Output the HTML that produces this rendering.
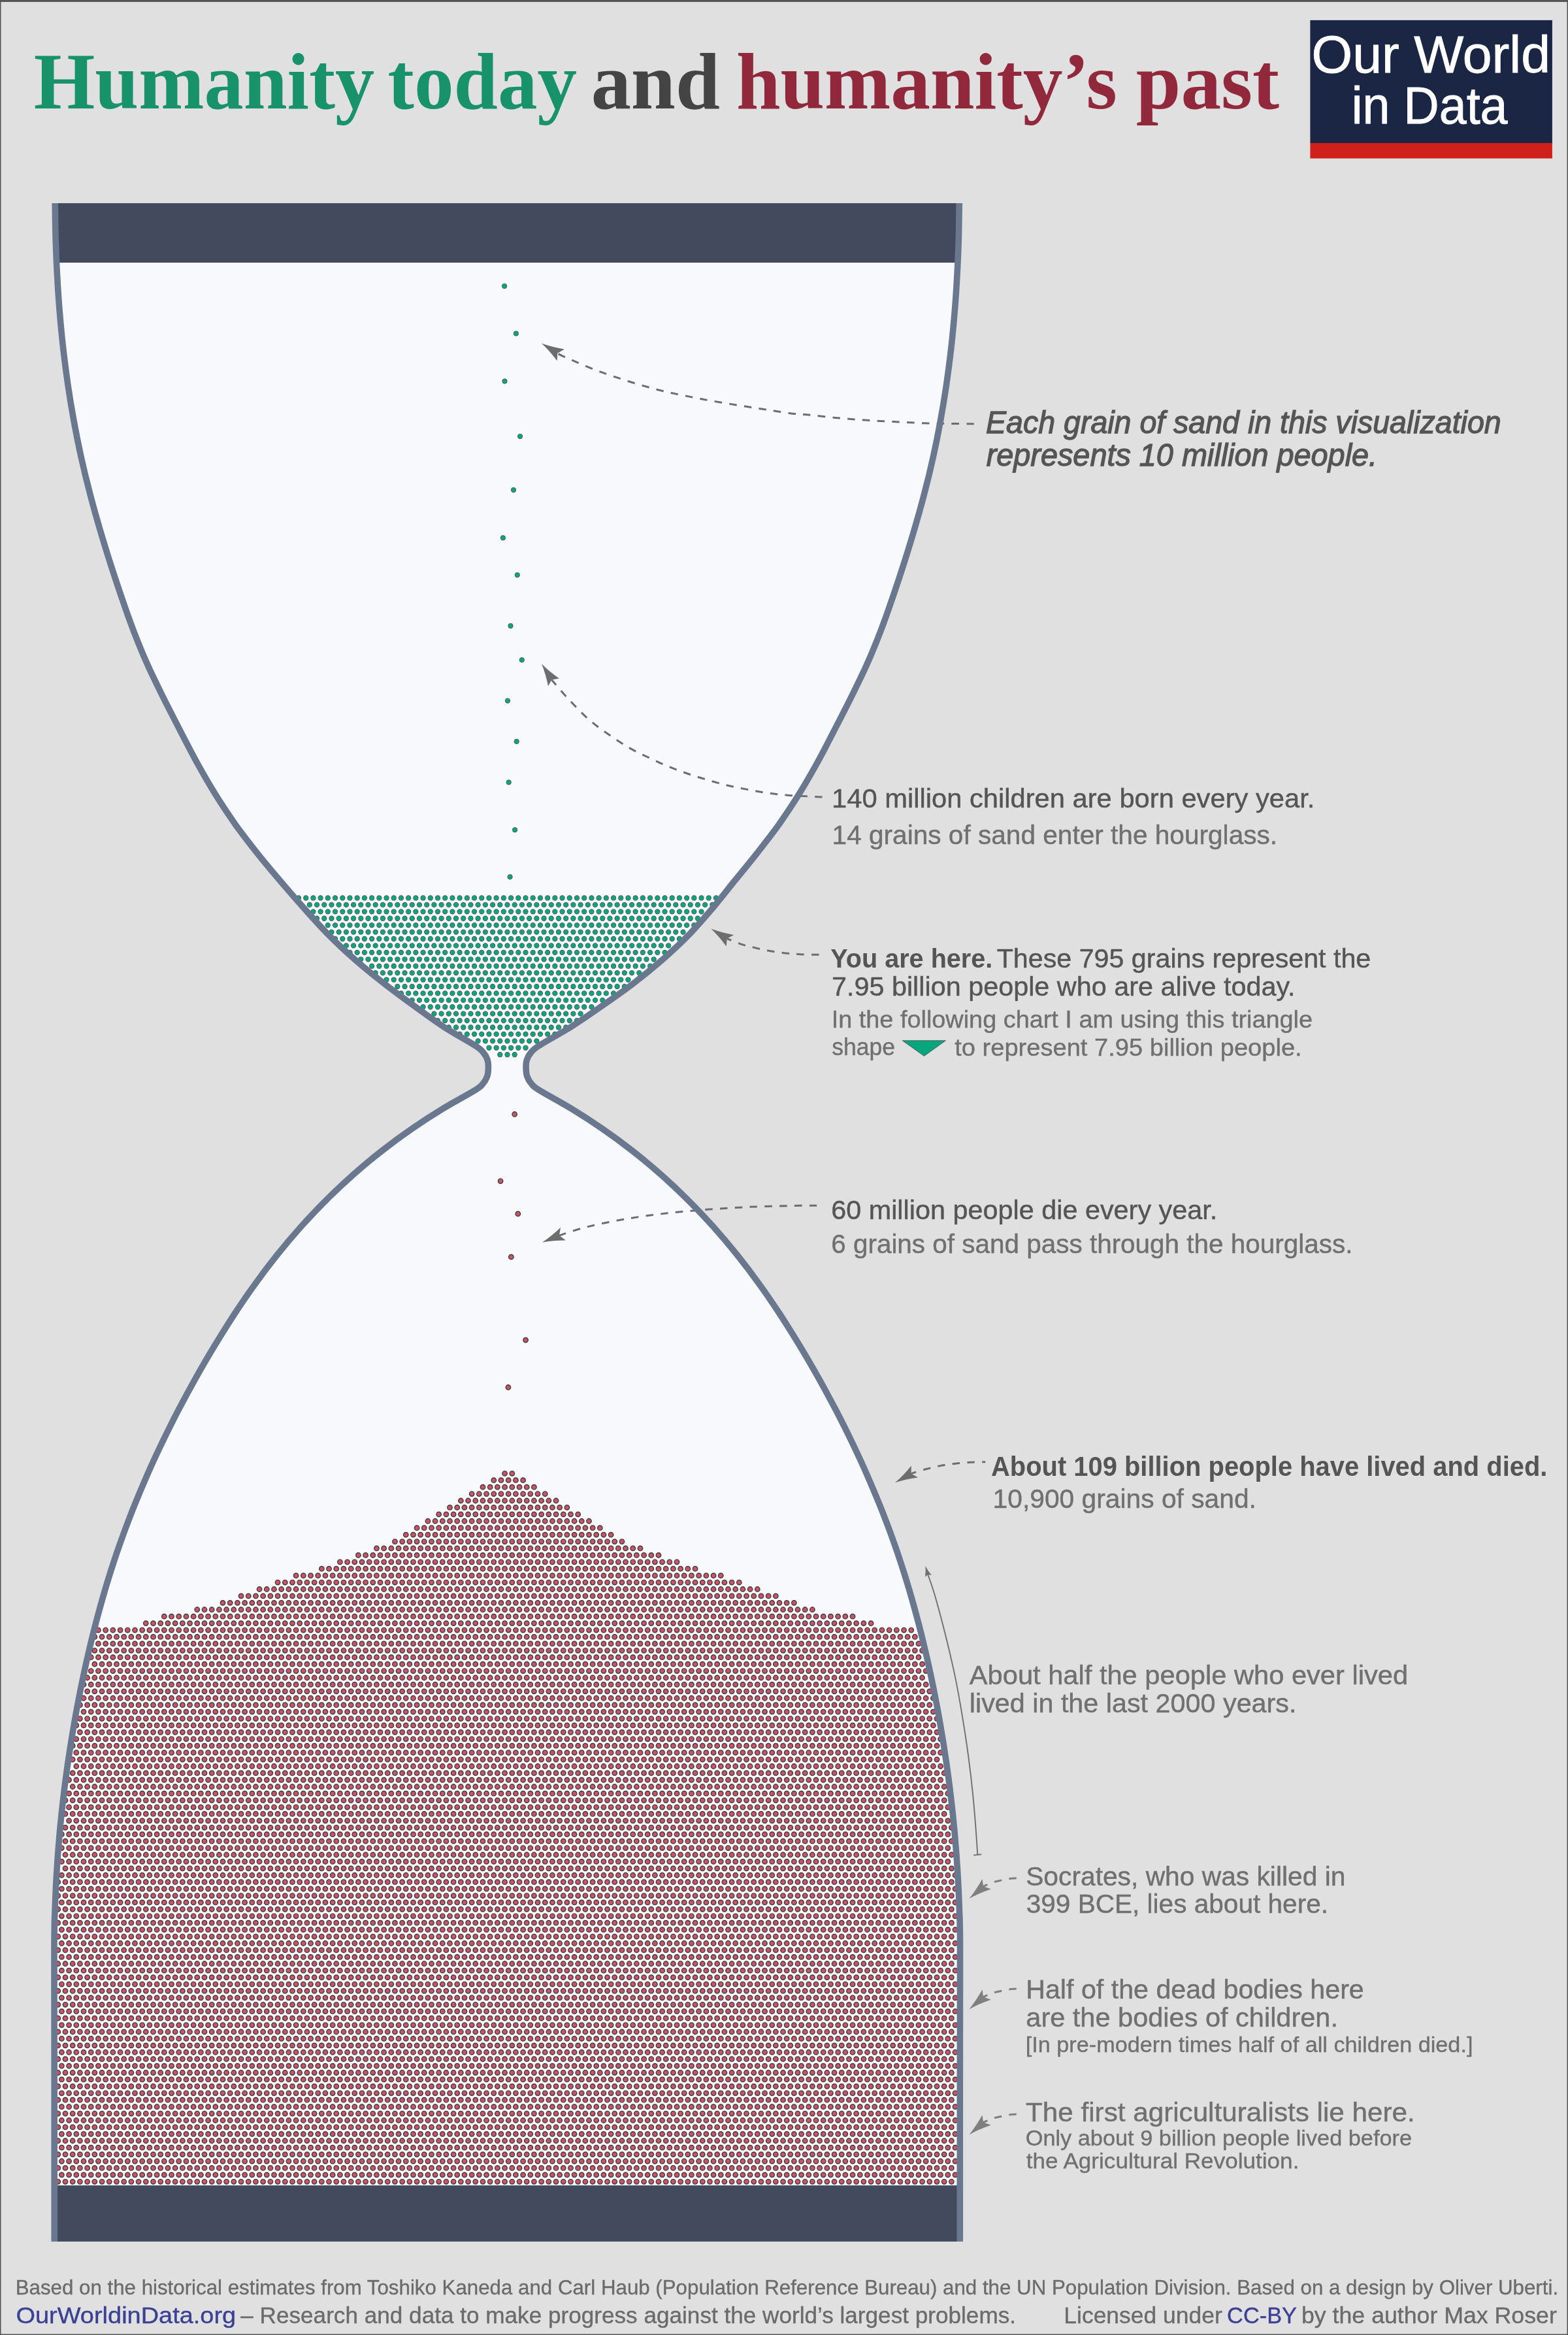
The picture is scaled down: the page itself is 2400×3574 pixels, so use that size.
<!DOCTYPE html>
<html><head><meta charset="utf-8"><title>Humanity today and humanity's past</title>
<style>
html,body{margin:0;padding:0;background:#e0e0e0;}
svg{display:block;will-change:transform;}
text{font-family:"Liberation Sans",sans-serif;white-space:pre;}
text.sf{font-family:"Liberation Serif",serif;}
</style></head><body>
<svg width="2400" height="3574" viewBox="0 0 2400 3574">
<defs><clipPath id="g"><path d="M84.2 311.0C84.4 320.3 84.6 348.2 85.2 366.8C85.8 385.4 86.5 404.0 87.6 422.6C88.6 441.2 89.8 459.8 91.4 478.4C92.9 496.9 94.7 515.5 96.8 534.0C98.9 552.5 101.3 571.0 104.0 589.4C106.7 607.8 109.7 626.2 113.1 644.5C116.4 662.8 120.1 681.0 124.1 699.2C128.1 717.4 132.5 735.5 137.2 753.5C141.8 771.5 146.8 789.4 152.1 807.3C157.3 825.2 162.8 843.0 168.4 860.8C174.1 878.5 179.9 896.2 186.0 913.9C192.0 931.5 198.1 949.1 204.8 966.4C211.5 983.8 218.5 1001.0 226.1 1018.0C233.7 1035.0 242.1 1051.6 250.3 1068.3C258.6 1085.0 267.1 1101.5 275.7 1118.1C284.2 1134.6 292.5 1151.2 301.6 1167.5C310.6 1183.8 319.9 1200.0 329.7 1215.8C339.5 1231.7 349.9 1247.2 360.6 1262.4C371.4 1277.5 382.8 1292.2 394.4 1306.7C406.0 1321.3 418.0 1335.5 430.1 1349.6C442.2 1363.8 454.4 1377.9 466.8 1391.8C479.2 1405.6 491.6 1419.6 504.7 1432.7C517.8 1445.9 531.4 1458.5 545.4 1470.7C559.4 1482.9 574.0 1494.6 588.7 1506.0C603.4 1517.5 618.5 1528.5 633.5 1539.4C648.6 1550.4 663.5 1561.6 679.1 1571.7C694.6 1581.8 716.9 1593.6 727.0 1600.2C737.2 1606.7 736.6 1607.3 739.8 1611.0C743.0 1614.7 744.9 1618.5 746.2 1622.5C747.5 1626.5 747.5 1631.0 747.4 1635.3C747.3 1639.5 747.0 1644.0 745.5 1648.0C744.0 1652.0 741.6 1656.1 738.5 1659.5C735.4 1662.9 737.3 1662.4 727.2 1668.6C717.1 1674.9 694.1 1687.0 678.0 1696.9C661.9 1706.7 646.0 1717.0 630.4 1727.8C614.9 1738.5 599.6 1749.7 584.7 1761.4C569.8 1773.0 555.3 1785.1 541.1 1797.6C527.0 1810.1 513.2 1823.0 499.9 1836.3C486.5 1849.6 473.5 1863.4 460.9 1877.4C448.3 1891.5 436.2 1905.9 424.4 1920.6C412.6 1935.4 401.2 1950.5 390.2 1965.8C379.1 1981.1 368.5 1996.7 358.1 2012.5C347.8 2028.4 337.8 2044.4 328.0 2060.6C318.2 2076.8 308.7 2093.2 299.4 2109.7C290.2 2126.2 281.2 2142.8 272.4 2159.6C263.7 2176.4 255.2 2193.3 247.1 2210.3C238.9 2227.4 231.0 2244.5 223.5 2261.8C216.0 2279.1 208.7 2296.6 201.8 2314.1C194.9 2331.7 188.3 2349.4 182.1 2367.2C175.9 2385.0 170.1 2403.0 164.5 2421.0C159.0 2439.1 153.9 2457.2 149.0 2475.5C144.1 2493.7 139.6 2512.1 135.3 2530.5C131.0 2548.9 127.1 2567.4 123.3 2585.9C119.6 2604.4 116.1 2623.0 112.9 2641.7C109.7 2660.3 106.7 2679.0 104.0 2697.7C101.3 2716.4 98.8 2735.1 96.7 2753.9C94.5 2772.6 92.5 2791.4 90.9 2810.2C89.2 2829.1 87.8 2847.9 86.7 2866.8C85.5 2885.6 84.7 2904.5 84.1 2923.3C83.4 2942.2 83.2 2933.9 83.0 2980.0C82.9 3026.1 83.2 3124.8 83.2 3200.0C83.2 3275.2 83.2 3392.5 83.2 3431.0L1469.3 3431.0C1469.3 3392.5 1469.3 3275.2 1469.3 3200.0C1469.3 3124.8 1469.6 3026.1 1469.5 2980.0C1469.3 2933.9 1469.1 2942.2 1468.4 2923.3C1467.8 2904.5 1467.0 2885.6 1465.8 2866.8C1464.7 2847.9 1463.3 2829.1 1461.6 2810.2C1460.0 2791.4 1458.0 2772.6 1455.8 2753.9C1453.7 2735.1 1451.2 2716.4 1448.5 2697.7C1445.8 2679.0 1442.8 2660.3 1439.6 2641.7C1436.4 2623.0 1432.9 2604.4 1429.2 2585.9C1425.4 2567.4 1421.5 2548.9 1417.2 2530.5C1412.9 2512.1 1408.4 2493.7 1403.5 2475.5C1398.6 2457.2 1393.5 2439.1 1388.0 2421.0C1382.4 2403.0 1376.6 2385.0 1370.4 2367.2C1364.2 2349.4 1357.6 2331.7 1350.7 2314.1C1343.8 2296.6 1336.5 2279.1 1329.0 2261.8C1321.5 2244.5 1313.6 2227.4 1305.4 2210.3C1297.3 2193.3 1288.8 2176.4 1280.1 2159.6C1271.3 2142.8 1262.3 2126.2 1253.1 2109.7C1243.8 2093.2 1234.3 2076.8 1224.5 2060.6C1214.7 2044.4 1204.7 2028.4 1194.4 2012.5C1184.0 1996.7 1173.4 1981.1 1162.3 1965.8C1151.3 1950.5 1139.9 1935.4 1128.1 1920.6C1116.3 1905.9 1104.2 1891.5 1091.6 1877.4C1079.0 1863.4 1066.0 1849.6 1052.6 1836.3C1039.3 1823.0 1025.5 1810.1 1011.4 1797.6C997.2 1785.1 982.7 1773.0 967.8 1761.4C952.9 1749.7 937.6 1738.5 922.1 1727.8C906.5 1717.0 890.6 1706.7 874.5 1696.9C858.4 1687.0 835.4 1674.9 825.3 1668.6C815.2 1662.4 817.1 1662.9 814.0 1659.5C810.9 1656.1 808.5 1652.0 807.0 1648.0C805.5 1644.0 805.2 1639.5 805.1 1635.3C805.0 1631.0 805.0 1626.5 806.3 1622.5C807.6 1618.5 809.5 1614.7 812.7 1611.0C815.9 1607.3 815.3 1606.7 825.5 1600.2C835.7 1593.6 857.9 1581.8 874.0 1571.7C890.0 1561.6 906.1 1550.4 921.8 1539.4C937.6 1528.5 953.5 1517.5 968.5 1506.0C983.5 1494.6 997.9 1482.9 1011.9 1470.7C1025.9 1458.5 1039.7 1445.9 1052.6 1432.7C1065.5 1419.6 1077.4 1405.6 1089.2 1391.8C1101.0 1377.9 1111.8 1363.8 1123.3 1349.6C1134.8 1335.5 1146.7 1321.3 1158.1 1306.7C1169.5 1292.2 1181.1 1277.5 1191.9 1262.4C1202.6 1247.2 1213.0 1231.7 1222.8 1215.8C1232.6 1200.0 1241.9 1183.8 1250.9 1167.5C1260.0 1151.2 1268.3 1134.6 1276.8 1118.1C1285.4 1101.5 1293.9 1085.0 1302.2 1068.3C1310.4 1051.6 1318.8 1035.0 1326.4 1018.0C1334.0 1001.0 1341.0 983.8 1347.7 966.4C1354.4 949.1 1360.5 931.5 1366.5 913.9C1372.6 896.2 1378.4 878.5 1384.1 860.8C1389.7 843.0 1395.2 825.2 1400.4 807.3C1405.7 789.4 1410.7 771.5 1415.3 753.5C1420.0 735.5 1424.4 717.4 1428.4 699.2C1432.4 681.0 1436.1 662.8 1439.4 644.5C1442.8 626.2 1445.8 607.8 1448.5 589.4C1451.2 571.0 1453.6 552.5 1455.7 534.0C1457.8 515.5 1459.6 496.9 1461.1 478.4C1462.7 459.8 1463.9 441.2 1464.9 422.6C1466.0 404.0 1466.7 385.4 1467.3 366.8C1467.9 348.2 1468.1 320.3 1468.3 311.0Z"/></clipPath></defs>
<rect width="2400" height="3574" fill="#e0e0e0"/>
<path d="M84.2 311.0C84.4 320.3 84.6 348.2 85.2 366.8C85.8 385.4 86.5 404.0 87.6 422.6C88.6 441.2 89.8 459.8 91.4 478.4C92.9 496.9 94.7 515.5 96.8 534.0C98.9 552.5 101.3 571.0 104.0 589.4C106.7 607.8 109.7 626.2 113.1 644.5C116.4 662.8 120.1 681.0 124.1 699.2C128.1 717.4 132.5 735.5 137.2 753.5C141.8 771.5 146.8 789.4 152.1 807.3C157.3 825.2 162.8 843.0 168.4 860.8C174.1 878.5 179.9 896.2 186.0 913.9C192.0 931.5 198.1 949.1 204.8 966.4C211.5 983.8 218.5 1001.0 226.1 1018.0C233.7 1035.0 242.1 1051.6 250.3 1068.3C258.6 1085.0 267.1 1101.5 275.7 1118.1C284.2 1134.6 292.5 1151.2 301.6 1167.5C310.6 1183.8 319.9 1200.0 329.7 1215.8C339.5 1231.7 349.9 1247.2 360.6 1262.4C371.4 1277.5 382.8 1292.2 394.4 1306.7C406.0 1321.3 418.0 1335.5 430.1 1349.6C442.2 1363.8 454.4 1377.9 466.8 1391.8C479.2 1405.6 491.6 1419.6 504.7 1432.7C517.8 1445.9 531.4 1458.5 545.4 1470.7C559.4 1482.9 574.0 1494.6 588.7 1506.0C603.4 1517.5 618.5 1528.5 633.5 1539.4C648.6 1550.4 663.5 1561.6 679.1 1571.7C694.6 1581.8 716.9 1593.6 727.0 1600.2C737.2 1606.7 736.6 1607.3 739.8 1611.0C743.0 1614.7 744.9 1618.5 746.2 1622.5C747.5 1626.5 747.5 1631.0 747.4 1635.3C747.3 1639.5 747.0 1644.0 745.5 1648.0C744.0 1652.0 741.6 1656.1 738.5 1659.5C735.4 1662.9 737.3 1662.4 727.2 1668.6C717.1 1674.9 694.1 1687.0 678.0 1696.9C661.9 1706.7 646.0 1717.0 630.4 1727.8C614.9 1738.5 599.6 1749.7 584.7 1761.4C569.8 1773.0 555.3 1785.1 541.1 1797.6C527.0 1810.1 513.2 1823.0 499.9 1836.3C486.5 1849.6 473.5 1863.4 460.9 1877.4C448.3 1891.5 436.2 1905.9 424.4 1920.6C412.6 1935.4 401.2 1950.5 390.2 1965.8C379.1 1981.1 368.5 1996.7 358.1 2012.5C347.8 2028.4 337.8 2044.4 328.0 2060.6C318.2 2076.8 308.7 2093.2 299.4 2109.7C290.2 2126.2 281.2 2142.8 272.4 2159.6C263.7 2176.4 255.2 2193.3 247.1 2210.3C238.9 2227.4 231.0 2244.5 223.5 2261.8C216.0 2279.1 208.7 2296.6 201.8 2314.1C194.9 2331.7 188.3 2349.4 182.1 2367.2C175.9 2385.0 170.1 2403.0 164.5 2421.0C159.0 2439.1 153.9 2457.2 149.0 2475.5C144.1 2493.7 139.6 2512.1 135.3 2530.5C131.0 2548.9 127.1 2567.4 123.3 2585.9C119.6 2604.4 116.1 2623.0 112.9 2641.7C109.7 2660.3 106.7 2679.0 104.0 2697.7C101.3 2716.4 98.8 2735.1 96.7 2753.9C94.5 2772.6 92.5 2791.4 90.9 2810.2C89.2 2829.1 87.8 2847.9 86.7 2866.8C85.5 2885.6 84.7 2904.5 84.1 2923.3C83.4 2942.2 83.2 2933.9 83.0 2980.0C82.9 3026.1 83.2 3124.8 83.2 3200.0C83.2 3275.2 83.2 3392.5 83.2 3431.0L1469.3 3431.0C1469.3 3392.5 1469.3 3275.2 1469.3 3200.0C1469.3 3124.8 1469.6 3026.1 1469.5 2980.0C1469.3 2933.9 1469.1 2942.2 1468.4 2923.3C1467.8 2904.5 1467.0 2885.6 1465.8 2866.8C1464.7 2847.9 1463.3 2829.1 1461.6 2810.2C1460.0 2791.4 1458.0 2772.6 1455.8 2753.9C1453.7 2735.1 1451.2 2716.4 1448.5 2697.7C1445.8 2679.0 1442.8 2660.3 1439.6 2641.7C1436.4 2623.0 1432.9 2604.4 1429.2 2585.9C1425.4 2567.4 1421.5 2548.9 1417.2 2530.5C1412.9 2512.1 1408.4 2493.7 1403.5 2475.5C1398.6 2457.2 1393.5 2439.1 1388.0 2421.0C1382.4 2403.0 1376.6 2385.0 1370.4 2367.2C1364.2 2349.4 1357.6 2331.7 1350.7 2314.1C1343.8 2296.6 1336.5 2279.1 1329.0 2261.8C1321.5 2244.5 1313.6 2227.4 1305.4 2210.3C1297.3 2193.3 1288.8 2176.4 1280.1 2159.6C1271.3 2142.8 1262.3 2126.2 1253.1 2109.7C1243.8 2093.2 1234.3 2076.8 1224.5 2060.6C1214.7 2044.4 1204.7 2028.4 1194.4 2012.5C1184.0 1996.7 1173.4 1981.1 1162.3 1965.8C1151.3 1950.5 1139.9 1935.4 1128.1 1920.6C1116.3 1905.9 1104.2 1891.5 1091.6 1877.4C1079.0 1863.4 1066.0 1849.6 1052.6 1836.3C1039.3 1823.0 1025.5 1810.1 1011.4 1797.6C997.2 1785.1 982.7 1773.0 967.8 1761.4C952.9 1749.7 937.6 1738.5 922.1 1727.8C906.5 1717.0 890.6 1706.7 874.5 1696.9C858.4 1687.0 835.4 1674.9 825.3 1668.6C815.2 1662.4 817.1 1662.9 814.0 1659.5C810.9 1656.1 808.5 1652.0 807.0 1648.0C805.5 1644.0 805.2 1639.5 805.1 1635.3C805.0 1631.0 805.0 1626.5 806.3 1622.5C807.6 1618.5 809.5 1614.7 812.7 1611.0C815.9 1607.3 815.3 1606.7 825.5 1600.2C835.7 1593.6 857.9 1581.8 874.0 1571.7C890.0 1561.6 906.1 1550.4 921.8 1539.4C937.6 1528.5 953.5 1517.5 968.5 1506.0C983.5 1494.6 997.9 1482.9 1011.9 1470.7C1025.9 1458.5 1039.7 1445.9 1052.6 1432.7C1065.5 1419.6 1077.4 1405.6 1089.2 1391.8C1101.0 1377.9 1111.8 1363.8 1123.3 1349.6C1134.8 1335.5 1146.7 1321.3 1158.1 1306.7C1169.5 1292.2 1181.1 1277.5 1191.9 1262.4C1202.6 1247.2 1213.0 1231.7 1222.8 1215.8C1232.6 1200.0 1241.9 1183.8 1250.9 1167.5C1260.0 1151.2 1268.3 1134.6 1276.8 1118.1C1285.4 1101.5 1293.9 1085.0 1302.2 1068.3C1310.4 1051.6 1318.8 1035.0 1326.4 1018.0C1334.0 1001.0 1341.0 983.8 1347.7 966.4C1354.4 949.1 1360.5 931.5 1366.5 913.9C1372.6 896.2 1378.4 878.5 1384.1 860.8C1389.7 843.0 1395.2 825.2 1400.4 807.3C1405.7 789.4 1410.7 771.5 1415.3 753.5C1420.0 735.5 1424.4 717.4 1428.4 699.2C1432.4 681.0 1436.1 662.8 1439.4 644.5C1442.8 626.2 1445.8 607.8 1448.5 589.4C1451.2 571.0 1453.6 552.5 1455.7 534.0C1457.8 515.5 1459.6 496.9 1461.1 478.4C1462.7 459.8 1463.9 441.2 1464.9 422.6C1466.0 404.0 1466.7 385.4 1467.3 366.8C1467.9 348.2 1468.1 320.3 1468.3 311.0Z" fill="#f8f9fd"/>
<g clip-path="url(#g)">
<rect x="60" y="311" width="1440" height="91" fill="#444a5d"/>
<rect x="60" y="3345" width="1440" height="86" fill="#444a5d"/>
<path d="M765.29 1614.20H787.72M748.48 1603.78H804.53M731.66 1593.35H821.35M703.63 1582.93H849.38M686.82 1572.51H866.19M670.00 1562.09H883.00M664.40 1551.66H888.61M647.59 1541.24H905.43M630.77 1530.82H922.24M613.95 1520.39H939.05M608.35 1509.97H955.87M591.53 1499.55H961.47M574.72 1489.12H978.29M569.12 1478.70H995.11M552.30 1468.28H1000.71M535.48 1457.86H1017.52M529.88 1447.43H1023.13M513.06 1437.01H1039.94M507.46 1426.59H1045.55M501.85 1416.16H1062.37M485.04 1405.74H1067.97M479.43 1395.32H1073.58M473.83 1384.89H1090.39M457.01 1374.47H1096.00" fill="none" stroke="#525b58" stroke-width="8.30" stroke-linecap="round" stroke-dasharray="0 11.210"/><path d="M765.29 1614.20H787.72M748.48 1603.78H804.53M731.66 1593.35H821.35M703.63 1582.93H849.38M686.82 1572.51H866.19M670.00 1562.09H883.00M664.40 1551.66H888.61M647.59 1541.24H905.43M630.77 1530.82H922.24M613.95 1520.39H939.05M608.35 1509.97H955.87M591.53 1499.55H961.47M574.72 1489.12H978.29M569.12 1478.70H995.11M552.30 1468.28H1000.71M535.48 1457.86H1017.52M529.88 1447.43H1023.13M513.06 1437.01H1039.94M507.46 1426.59H1045.55M501.85 1416.16H1062.37M485.04 1405.74H1067.97M479.43 1395.32H1073.58M473.83 1384.89H1090.39M457.01 1374.47H1096.00" fill="none" stroke="#08a67c" stroke-width="6.40" stroke-linecap="round" stroke-dasharray="0 11.210"/>
<path d="M772.60 2255.30H783.82M755.78 2265.72H800.63M738.97 2276.15H817.45M722.15 2286.57H834.26M705.34 2296.99H851.08M688.52 2307.41H867.89M671.71 2317.84H884.71M654.89 2328.26H901.52M638.08 2338.68H918.34M621.26 2349.11H935.15M604.45 2359.53H951.97M576.42 2369.95H979.99M548.39 2380.38H1008.01M520.37 2390.80H1036.04M492.35 2401.22H1064.07M453.11 2411.64H1103.30M425.09 2422.07H1131.33M397.06 2432.49H1159.35M369.04 2442.91H1187.38M341.01 2453.34H1215.40M301.78 2463.76H1254.63M251.33 2474.18H1305.08M223.30 2484.61H1333.11M150.44 2495.03H1394.76M144.83 2505.45H1400.37M150.44 2515.88H1405.97M144.83 2526.30H1411.58M139.23 2536.72H1405.97M144.83 2547.14H1411.58M139.23 2557.57H1417.18M133.62 2567.99H1411.58M128.02 2578.41H1417.18M133.62 2588.84H1422.79M128.02 2599.26H1428.39M122.41 2609.68H1422.79M128.02 2620.11H1428.39M122.41 2630.53H1434.00M116.81 2640.95H1428.39M122.41 2651.37H1434.00M116.81 2661.80H1439.60M111.20 2672.22H1434.00M116.81 2682.64H1439.60M111.20 2693.07H1434.00M116.81 2703.49H1439.60M111.20 2713.91H1445.20M105.60 2724.34H1439.60M111.20 2734.76H1445.20M105.60 2745.18H1450.81M99.99 2755.60H1445.20M105.60 2766.03H1450.81M99.99 2776.45H1445.20M105.60 2786.87H1450.81M99.99 2797.30H1456.41M94.39 2807.72H1450.81M99.99 2818.14H1456.41M94.39 2828.57H1450.81M99.99 2838.99H1456.41M94.39 2849.41H1450.81M99.99 2859.83H1456.41M94.39 2870.26H1462.02M88.78 2880.68H1456.42M94.39 2891.10H1462.02M88.78 2901.53H1456.42M94.39 2911.95H1462.02M88.78 2922.37H1456.42M94.39 2932.80H1462.02M88.78 2943.22H1456.42M94.39 2953.64H1462.02M88.78 2964.06H1456.42M94.39 2974.49H1462.02M88.78 2984.91H1456.42M94.39 2995.33H1462.02M88.78 3005.76H1456.42M94.39 3016.18H1462.02M88.78 3026.60H1456.42M94.39 3037.03H1462.02M88.78 3047.45H1456.42M94.39 3057.87H1462.02M88.78 3068.29H1456.42M94.39 3078.72H1462.02M88.78 3089.14H1456.42M94.39 3099.56H1462.02M88.78 3109.99H1456.42M94.39 3120.41H1462.02M88.78 3130.83H1456.42M94.39 3141.26H1462.02M88.78 3151.68H1456.42M94.39 3162.10H1462.02M88.78 3172.52H1456.42M94.39 3182.95H1462.02M88.78 3193.37H1456.42M94.39 3203.79H1462.02M88.78 3214.22H1456.42M94.39 3224.64H1462.02M88.78 3235.06H1456.42M94.39 3245.49H1462.02M88.78 3255.91H1456.42M94.39 3266.33H1462.02M88.78 3276.75H1456.42M94.39 3287.18H1462.02M88.78 3297.60H1456.42M94.39 3308.02H1462.02M88.78 3318.45H1456.42M94.39 3328.87H1462.02M88.78 3339.29H1456.42" fill="none" stroke="#3f3d3e" stroke-width="8.80" stroke-linecap="round" stroke-dasharray="0 11.210"/><path d="M772.60 2255.30H783.82M755.78 2265.72H800.63M738.97 2276.15H817.45M722.15 2286.57H834.26M705.34 2296.99H851.08M688.52 2307.41H867.89M671.71 2317.84H884.71M654.89 2328.26H901.52M638.08 2338.68H918.34M621.26 2349.11H935.15M604.45 2359.53H951.97M576.42 2369.95H979.99M548.39 2380.38H1008.01M520.37 2390.80H1036.04M492.35 2401.22H1064.07M453.11 2411.64H1103.30M425.09 2422.07H1131.33M397.06 2432.49H1159.35M369.04 2442.91H1187.38M341.01 2453.34H1215.40M301.78 2463.76H1254.63M251.33 2474.18H1305.08M223.30 2484.61H1333.11M150.44 2495.03H1394.76M144.83 2505.45H1400.37M150.44 2515.88H1405.97M144.83 2526.30H1411.58M139.23 2536.72H1405.97M144.83 2547.14H1411.58M139.23 2557.57H1417.18M133.62 2567.99H1411.58M128.02 2578.41H1417.18M133.62 2588.84H1422.79M128.02 2599.26H1428.39M122.41 2609.68H1422.79M128.02 2620.11H1428.39M122.41 2630.53H1434.00M116.81 2640.95H1428.39M122.41 2651.37H1434.00M116.81 2661.80H1439.60M111.20 2672.22H1434.00M116.81 2682.64H1439.60M111.20 2693.07H1434.00M116.81 2703.49H1439.60M111.20 2713.91H1445.20M105.60 2724.34H1439.60M111.20 2734.76H1445.20M105.60 2745.18H1450.81M99.99 2755.60H1445.20M105.60 2766.03H1450.81M99.99 2776.45H1445.20M105.60 2786.87H1450.81M99.99 2797.30H1456.41M94.39 2807.72H1450.81M99.99 2818.14H1456.41M94.39 2828.57H1450.81M99.99 2838.99H1456.41M94.39 2849.41H1450.81M99.99 2859.83H1456.41M94.39 2870.26H1462.02M88.78 2880.68H1456.42M94.39 2891.10H1462.02M88.78 2901.53H1456.42M94.39 2911.95H1462.02M88.78 2922.37H1456.42M94.39 2932.80H1462.02M88.78 2943.22H1456.42M94.39 2953.64H1462.02M88.78 2964.06H1456.42M94.39 2974.49H1462.02M88.78 2984.91H1456.42M94.39 2995.33H1462.02M88.78 3005.76H1456.42M94.39 3016.18H1462.02M88.78 3026.60H1456.42M94.39 3037.03H1462.02M88.78 3047.45H1456.42M94.39 3057.87H1462.02M88.78 3068.29H1456.42M94.39 3078.72H1462.02M88.78 3089.14H1456.42M94.39 3099.56H1462.02M88.78 3109.99H1456.42M94.39 3120.41H1462.02M88.78 3130.83H1456.42M94.39 3141.26H1462.02M88.78 3151.68H1456.42M94.39 3162.10H1462.02M88.78 3172.52H1456.42M94.39 3182.95H1462.02M88.78 3193.37H1456.42M94.39 3203.79H1462.02M88.78 3214.22H1456.42M94.39 3224.64H1462.02M88.78 3235.06H1456.42M94.39 3245.49H1462.02M88.78 3255.91H1456.42M94.39 3266.33H1462.02M88.78 3276.75H1456.42M94.39 3287.18H1462.02M88.78 3297.60H1456.42M94.39 3308.02H1462.02M88.78 3318.45H1456.42M94.39 3328.87H1462.02M88.78 3339.29H1456.42" fill="none" stroke="#d05266" stroke-width="5.90" stroke-linecap="round" stroke-dasharray="0 11.210"/>
</g>
<circle cx="772.1" cy="437.9" r="3.68" fill="#08a67c" stroke="#525b58" stroke-width="0.95"/><circle cx="789.9" cy="510.5" r="3.68" fill="#08a67c" stroke="#525b58" stroke-width="0.95"/><circle cx="772.5" cy="583.5" r="3.68" fill="#08a67c" stroke="#525b58" stroke-width="0.95"/><circle cx="796.1" cy="667.9" r="3.68" fill="#08a67c" stroke="#525b58" stroke-width="0.95"/><circle cx="786.0" cy="749.9" r="3.68" fill="#08a67c" stroke="#525b58" stroke-width="0.95"/><circle cx="769.9" cy="823.3" r="3.68" fill="#08a67c" stroke="#525b58" stroke-width="0.95"/><circle cx="791.8" cy="880.1" r="3.68" fill="#08a67c" stroke="#525b58" stroke-width="0.95"/><circle cx="781.5" cy="958.0" r="3.68" fill="#08a67c" stroke="#525b58" stroke-width="0.95"/><circle cx="798.8" cy="1010.1" r="3.68" fill="#08a67c" stroke="#525b58" stroke-width="0.95"/><circle cx="777.0" cy="1072.6" r="3.68" fill="#08a67c" stroke="#525b58" stroke-width="0.95"/><circle cx="790.7" cy="1134.9" r="3.68" fill="#08a67c" stroke="#525b58" stroke-width="0.95"/><circle cx="778.7" cy="1197.4" r="3.68" fill="#08a67c" stroke="#525b58" stroke-width="0.95"/><circle cx="788.1" cy="1270.2" r="3.68" fill="#08a67c" stroke="#525b58" stroke-width="0.95"/><circle cx="780.6" cy="1342.2" r="3.68" fill="#08a67c" stroke="#525b58" stroke-width="0.95"/><circle cx="787.7" cy="1705.5" r="3.68" fill="#d05266" stroke="#3f3d3e" stroke-width="1.45"/><circle cx="766.1" cy="1807.8" r="3.68" fill="#d05266" stroke="#3f3d3e" stroke-width="1.45"/><circle cx="792.8" cy="1857.9" r="3.68" fill="#d05266" stroke="#3f3d3e" stroke-width="1.45"/><circle cx="782.4" cy="1923.9" r="3.68" fill="#d05266" stroke="#3f3d3e" stroke-width="1.45"/><circle cx="804.6" cy="2051.1" r="3.68" fill="#d05266" stroke="#3f3d3e" stroke-width="1.45"/><circle cx="777.9" cy="2123.5" r="3.68" fill="#d05266" stroke="#3f3d3e" stroke-width="1.45"/>
<path d="M1490.8 648.8C1484.5 648.7 1465.6 648.6 1453.0 648.4C1440.4 648.2 1429.2 648.3 1415.3 647.8C1401.4 647.3 1384.5 646.3 1369.4 645.5C1354.3 644.7 1339.6 644.1 1324.5 643.1C1309.4 642.1 1293.9 640.8 1278.6 639.4C1263.3 638.0 1244.4 635.7 1232.7 634.5C1221.0 633.3 1221.7 634.2 1208.2 632.4C1194.7 630.6 1173.8 627.3 1151.6 623.7C1129.4 620.1 1100.6 615.9 1075.1 611.0C1049.6 606.1 1024.1 601.2 998.6 594.4C973.1 587.6 943.8 577.9 922.0 570.2C900.2 562.5 879.5 552.9 868.0 548.0C856.5 543.1 855.7 542.0 853.2 540.8" fill="none" stroke="#6d6d6d" stroke-width="3" stroke-dasharray="11.5 11.3"/><path d="M828.9 525.5Q844.3 531.2 863.9 534.4L853.2 540.8L852.7 552.3Q840.9 536.6 828.9 525.5Z" fill="#6d6d6d"/><path d="M1258.5 1220.0C1255.2 1219.8 1247.0 1219.4 1238.6 1219.0C1230.2 1218.6 1218.2 1218.2 1208.0 1217.4C1197.8 1216.6 1187.5 1215.5 1177.3 1214.1C1167.1 1212.7 1156.9 1210.8 1146.7 1208.9C1136.5 1207.0 1126.3 1205.2 1116.1 1202.8C1105.9 1200.4 1095.7 1197.5 1085.5 1194.5C1075.3 1191.5 1065.1 1188.5 1054.9 1185.0C1044.7 1181.5 1034.5 1177.9 1024.3 1173.7C1014.1 1169.5 1003.9 1164.8 993.7 1159.9C983.5 1155.1 973.3 1150.5 963.1 1144.6C952.9 1138.7 942.6 1131.8 932.4 1124.7C922.2 1117.6 912.0 1110.6 901.8 1101.7C891.6 1092.8 880.8 1081.3 871.2 1071.1C861.6 1060.9 848.8 1045.6 844.3 1040.5" fill="none" stroke="#6d6d6d" stroke-width="3" stroke-dasharray="11.5 11.3"/><path d="M829.0 1016.0Q840.1 1027.6 855.9 1038.4L844.3 1040.5L839.1 1050.3Q835.1 1031.2 829.0 1016.0Z" fill="#6d6d6d"/><path d="M1250.2 1845.3C1243.2 1845.3 1225.2 1845.2 1208.0 1845.6C1190.8 1845.9 1167.1 1846.5 1146.7 1847.4C1126.3 1848.3 1105.9 1849.6 1085.5 1851.1C1065.1 1852.6 1044.7 1854.3 1024.3 1856.6C1003.9 1858.9 983.5 1861.5 963.1 1864.9C942.7 1868.3 919.7 1872.8 901.8 1877.1C883.9 1881.4 863.5 1888.6 855.9 1890.9" fill="none" stroke="#6d6d6d" stroke-width="3" stroke-dasharray="11.5 11.3"/><path d="M829.9 1901.6Q843.6 1892.6 858.1 1878.7L855.9 1890.9L866.0 1898.6Q845.9 1898.6 829.9 1901.6Z" fill="#6d6d6d"/><path d="M1253.6 1461.3C1248.9 1461.2 1233.8 1461.1 1225.3 1460.7C1216.8 1460.3 1210.1 1459.7 1202.4 1458.9C1194.8 1458.1 1187.1 1457.1 1179.4 1455.8C1171.7 1454.5 1163.9 1452.7 1156.4 1450.9C1148.9 1449.1 1141.5 1447.5 1134.2 1445.1C1126.9 1442.7 1116.4 1438.1 1112.8 1436.7" fill="none" stroke="#6d6d6d" stroke-width="3" stroke-dasharray="11.5 11.3"/><path d="M1088.3 1421.4Q1103.7 1427.3 1123.2 1430.9L1112.8 1436.7L1111.7 1448.5Q1100.2 1432.6 1088.3 1421.4Z" fill="#6d6d6d"/><path d="M1508.2 2237.8C1504.4 2237.9 1493.2 2237.9 1485.5 2238.3C1477.8 2238.7 1469.8 2239.3 1462.2 2240.2C1454.6 2241.0 1447.4 2242.0 1439.9 2243.4C1432.4 2244.8 1424.5 2246.7 1417.0 2248.7C1409.5 2250.7 1398.3 2254.4 1394.6 2255.5" fill="none" stroke="#6d6d6d" stroke-width="3" stroke-dasharray="11.5 11.3" stroke-dashoffset="6.5"/><path d="M1369.8 2269.5Q1382.3 2258.9 1394.9 2243.4L1394.6 2255.5L1405.1 2261.6Q1385.3 2264.3 1369.8 2269.5Z" fill="#6d6d6d"/><path d="M1555.8 2874.8C1553.9 2875.0 1548.2 2875.2 1544.4 2875.7C1540.6 2876.2 1536.8 2877.1 1533.0 2877.9C1529.2 2878.7 1525.5 2879.5 1521.9 2880.6C1518.3 2881.7 1514.1 2883.5 1511.3 2884.6C1508.5 2885.7 1506.1 2886.9 1505.1 2887.3" fill="none" stroke="#7f7f7f" stroke-width="3" stroke-dasharray="11.5 11.3"/><path d="M1483.4 2906.1Q1493.8 2893.3 1503.5 2875.9L1505.1 2887.3L1516.8 2891.5Q1497.8 2898.0 1483.4 2906.1Z" fill="#7f7f7f"/><path d="M1555.8 3044.1C1553.9 3044.3 1548.2 3044.5 1544.4 3045.0C1540.6 3045.5 1536.8 3046.4 1533.0 3047.2C1529.2 3048.0 1525.5 3048.8 1521.9 3049.9C1518.3 3051.0 1514.1 3052.8 1511.3 3053.9C1508.5 3055.0 1506.1 3056.2 1505.1 3056.6" fill="none" stroke="#7f7f7f" stroke-width="3" stroke-dasharray="11.5 11.3"/><path d="M1483.4 3075.4Q1493.8 3062.6 1503.5 3045.2L1505.1 3056.6L1516.8 3060.8Q1497.8 3067.3 1483.4 3075.4Z" fill="#7f7f7f"/><path d="M1555.8 3236.1C1553.9 3236.3 1548.2 3236.5 1544.4 3237.0C1540.6 3237.5 1536.8 3238.4 1533.0 3239.2C1529.2 3240.0 1525.5 3240.8 1521.9 3241.9C1518.3 3243.0 1514.1 3244.8 1511.3 3245.9C1508.5 3247.0 1506.1 3248.2 1505.1 3248.6" fill="none" stroke="#7f7f7f" stroke-width="3" stroke-dasharray="11.5 11.3"/><path d="M1483.4 3267.4Q1493.8 3254.6 1503.5 3237.2L1505.1 3248.6L1516.8 3252.8Q1497.8 3259.3 1483.4 3267.4Z" fill="#7f7f7f"/>
<path d="M84.2 311.0C84.4 320.3 84.6 348.2 85.2 366.8C85.8 385.4 86.5 404.0 87.6 422.6C88.6 441.2 89.8 459.8 91.4 478.4C92.9 496.9 94.7 515.5 96.8 534.0C98.9 552.5 101.3 571.0 104.0 589.4C106.7 607.8 109.7 626.2 113.1 644.5C116.4 662.8 120.1 681.0 124.1 699.2C128.1 717.4 132.5 735.5 137.2 753.5C141.8 771.5 146.8 789.4 152.1 807.3C157.3 825.2 162.8 843.0 168.4 860.8C174.1 878.5 179.9 896.2 186.0 913.9C192.0 931.5 198.1 949.1 204.8 966.4C211.5 983.8 218.5 1001.0 226.1 1018.0C233.7 1035.0 242.1 1051.6 250.3 1068.3C258.6 1085.0 267.1 1101.5 275.7 1118.1C284.2 1134.6 292.5 1151.2 301.6 1167.5C310.6 1183.8 319.9 1200.0 329.7 1215.8C339.5 1231.7 349.9 1247.2 360.6 1262.4C371.4 1277.5 382.8 1292.2 394.4 1306.7C406.0 1321.3 418.0 1335.5 430.1 1349.6C442.2 1363.8 454.4 1377.9 466.8 1391.8C479.2 1405.6 491.6 1419.6 504.7 1432.7C517.8 1445.9 531.4 1458.5 545.4 1470.7C559.4 1482.9 574.0 1494.6 588.7 1506.0C603.4 1517.5 618.5 1528.5 633.5 1539.4C648.6 1550.4 663.5 1561.6 679.1 1571.7C694.6 1581.8 716.9 1593.6 727.0 1600.2C737.2 1606.7 736.6 1607.3 739.8 1611.0C743.0 1614.7 744.9 1618.5 746.2 1622.5C747.5 1626.5 747.5 1631.0 747.4 1635.3C747.3 1639.5 747.0 1644.0 745.5 1648.0C744.0 1652.0 741.6 1656.1 738.5 1659.5C735.4 1662.9 737.3 1662.4 727.2 1668.6C717.1 1674.9 694.1 1687.0 678.0 1696.9C661.9 1706.7 646.0 1717.0 630.4 1727.8C614.9 1738.5 599.6 1749.7 584.7 1761.4C569.8 1773.0 555.3 1785.1 541.1 1797.6C527.0 1810.1 513.2 1823.0 499.9 1836.3C486.5 1849.6 473.5 1863.4 460.9 1877.4C448.3 1891.5 436.2 1905.9 424.4 1920.6C412.6 1935.4 401.2 1950.5 390.2 1965.8C379.1 1981.1 368.5 1996.7 358.1 2012.5C347.8 2028.4 337.8 2044.4 328.0 2060.6C318.2 2076.8 308.7 2093.2 299.4 2109.7C290.2 2126.2 281.2 2142.8 272.4 2159.6C263.7 2176.4 255.2 2193.3 247.1 2210.3C238.9 2227.4 231.0 2244.5 223.5 2261.8C216.0 2279.1 208.7 2296.6 201.8 2314.1C194.9 2331.7 188.3 2349.4 182.1 2367.2C175.9 2385.0 170.1 2403.0 164.5 2421.0C159.0 2439.1 153.9 2457.2 149.0 2475.5C144.1 2493.7 139.6 2512.1 135.3 2530.5C131.0 2548.9 127.1 2567.4 123.3 2585.9C119.6 2604.4 116.1 2623.0 112.9 2641.7C109.7 2660.3 106.7 2679.0 104.0 2697.7C101.3 2716.4 98.8 2735.1 96.7 2753.9C94.5 2772.6 92.5 2791.4 90.9 2810.2C89.2 2829.1 87.8 2847.9 86.7 2866.8C85.5 2885.6 84.7 2904.5 84.1 2923.3C83.4 2942.2 83.2 2933.9 83.0 2980.0C82.9 3026.1 83.2 3124.8 83.2 3200.0C83.2 3275.2 83.2 3392.5 83.2 3431.0" fill="none" stroke="#69788f" stroke-width="9.6"/>
<path d="M1468.3 311.0C1468.1 320.3 1467.9 348.2 1467.3 366.8C1466.7 385.4 1466.0 404.0 1464.9 422.6C1463.9 441.2 1462.7 459.8 1461.1 478.4C1459.6 496.9 1457.8 515.5 1455.7 534.0C1453.6 552.5 1451.2 571.0 1448.5 589.4C1445.8 607.8 1442.8 626.2 1439.4 644.5C1436.1 662.8 1432.4 681.0 1428.4 699.2C1424.4 717.4 1420.0 735.5 1415.3 753.5C1410.7 771.5 1405.7 789.4 1400.4 807.3C1395.2 825.2 1389.7 843.0 1384.1 860.8C1378.4 878.5 1372.6 896.2 1366.5 913.9C1360.5 931.5 1354.4 949.1 1347.7 966.4C1341.0 983.8 1334.0 1001.0 1326.4 1018.0C1318.8 1035.0 1310.4 1051.6 1302.2 1068.3C1293.9 1085.0 1285.4 1101.5 1276.8 1118.1C1268.3 1134.6 1260.0 1151.2 1250.9 1167.5C1241.9 1183.8 1232.6 1200.0 1222.8 1215.8C1213.0 1231.7 1202.6 1247.2 1191.9 1262.4C1181.1 1277.5 1169.5 1292.2 1158.1 1306.7C1146.7 1321.3 1134.8 1335.5 1123.3 1349.6C1111.8 1363.8 1101.0 1377.9 1089.2 1391.8C1077.4 1405.6 1065.5 1419.6 1052.6 1432.7C1039.7 1445.9 1025.9 1458.5 1011.9 1470.7C997.9 1482.9 983.5 1494.6 968.5 1506.0C953.5 1517.5 937.6 1528.5 921.8 1539.4C906.1 1550.4 890.0 1561.6 874.0 1571.7C857.9 1581.8 835.7 1593.6 825.5 1600.2C815.3 1606.7 815.9 1607.3 812.7 1611.0C809.5 1614.7 807.6 1618.5 806.3 1622.5C805.0 1626.5 805.0 1631.0 805.1 1635.3C805.2 1639.5 805.5 1644.0 807.0 1648.0C808.5 1652.0 810.9 1656.1 814.0 1659.5C817.1 1662.9 815.2 1662.4 825.3 1668.6C835.4 1674.9 858.4 1687.0 874.5 1696.9C890.6 1706.7 906.5 1717.0 922.1 1727.8C937.6 1738.5 952.9 1749.7 967.8 1761.4C982.7 1773.0 997.2 1785.1 1011.4 1797.6C1025.5 1810.1 1039.3 1823.0 1052.6 1836.3C1066.0 1849.6 1079.0 1863.4 1091.6 1877.4C1104.2 1891.5 1116.3 1905.9 1128.1 1920.6C1139.9 1935.4 1151.3 1950.5 1162.3 1965.8C1173.4 1981.1 1184.0 1996.7 1194.4 2012.5C1204.7 2028.4 1214.7 2044.4 1224.5 2060.6C1234.3 2076.8 1243.8 2093.2 1253.1 2109.7C1262.3 2126.2 1271.3 2142.8 1280.1 2159.6C1288.8 2176.4 1297.3 2193.3 1305.4 2210.3C1313.6 2227.4 1321.5 2244.5 1329.0 2261.8C1336.5 2279.1 1343.8 2296.6 1350.7 2314.1C1357.6 2331.7 1364.2 2349.4 1370.4 2367.2C1376.6 2385.0 1382.4 2403.0 1388.0 2421.0C1393.5 2439.1 1398.6 2457.2 1403.5 2475.5C1408.4 2493.7 1412.9 2512.1 1417.2 2530.5C1421.5 2548.9 1425.4 2567.4 1429.2 2585.9C1432.9 2604.4 1436.4 2623.0 1439.6 2641.7C1442.8 2660.3 1445.8 2679.0 1448.5 2697.7C1451.2 2716.4 1453.7 2735.1 1455.8 2753.9C1458.0 2772.6 1460.0 2791.4 1461.6 2810.2C1463.3 2829.1 1464.7 2847.9 1465.8 2866.8C1467.0 2885.6 1467.8 2904.5 1468.4 2923.3C1469.1 2942.2 1469.3 2933.9 1469.5 2980.0C1469.6 3026.1 1469.3 3124.8 1469.3 3200.0C1469.3 3275.2 1469.3 3392.5 1469.3 3431.0" fill="none" stroke="#69788f" stroke-width="9.6"/>
<path d="M1496.2 2838.6C1495.9 2834.1 1495.6 2826.3 1494.5 2811.5C1493.4 2796.7 1491.5 2770.5 1489.4 2749.9C1487.4 2729.3 1485.0 2708.8 1482.2 2688.2C1479.5 2667.6 1476.3 2647.1 1472.9 2626.6C1469.5 2606.1 1465.9 2585.4 1461.6 2564.9C1457.3 2544.4 1452.4 2523.9 1447.3 2503.3C1442.2 2482.8 1435.3 2457.2 1430.8 2441.6C1426.3 2426.0 1422.0 2415.3 1420.2 2410.0" fill="none" stroke="#707070" stroke-width="1.9"/><path d="M1490 2839.6L1502.1 2838.2" stroke="#707070" stroke-width="1.9"/><path d="M1416.4 2397.1Q1419.7 2403.8 1425.9 2410.9L1420.2 2410.0L1416.0 2413.8Q1417.2 2404.5 1416.4 2397.1Z" fill="#707070"/>
<path d="M1381.3 1592.8H1447.4L1414.5 1616.4Z" fill="#08a67c" stroke="#4f5552" stroke-width="0.9"/>
<rect x="2005.4" y="30.9" width="370.5" height="188.5" fill="#1b2544"/><rect x="2005.4" y="218.9" width="370.5" height="23.6" fill="#d0201b"/>
<text x="51.8" y="166.0" textLength="521.4" lengthAdjust="spacingAndGlyphs" font-size="122" fill="#18926b" class="sf" font-weight="bold">Humanity</text>
<text x="593.6" y="166.0" textLength="289.6" lengthAdjust="spacingAndGlyphs" font-size="122" fill="#18926b" class="sf" font-weight="bold">today</text>
<text x="904.7" y="166.0" textLength="197.3" lengthAdjust="spacingAndGlyphs" font-size="122" fill="#444444" class="sf" font-weight="bold">and</text>
<text x="1126.9" y="166.0" textLength="582.8" lengthAdjust="spacingAndGlyphs" font-size="122" fill="#91283c" class="sf" font-weight="bold">humanity’s</text>
<text x="1738.8" y="166.0" textLength="219.3" lengthAdjust="spacingAndGlyphs" font-size="122" fill="#91283c" class="sf" font-weight="bold">past</text>
<text x="2007.6" y="111.3" textLength="365.4" lengthAdjust="spacingAndGlyphs" font-size="79" fill="#ffffff" stroke="#ffffff" stroke-width="0.87">Our World</text>
<text x="2068.7" y="188.9" textLength="238.8" lengthAdjust="spacingAndGlyphs" font-size="79" fill="#ffffff" stroke="#ffffff" stroke-width="0.87">in Data</text>
<text x="1509.1" y="663.2" textLength="788.6" lengthAdjust="spacingAndGlyphs" font-size="49" fill="#555555" font-style="italic" stroke="#555555" stroke-width="1.30">Each grain of sand in this visualization</text>
<text x="1509.7" y="712.6" textLength="598.4" lengthAdjust="spacingAndGlyphs" font-size="49" fill="#555555" font-style="italic" stroke="#555555" stroke-width="1.30">represents 10 million people.</text>
<text x="1273.0" y="1236.2" textLength="739.4" lengthAdjust="spacingAndGlyphs" font-size="41" fill="#555555" stroke="#555555" stroke-width="0.45">140 million children are born every year.</text>
<text x="1273.6" y="1292.2" textLength="681.5" lengthAdjust="spacingAndGlyphs" font-size="41" fill="#707070" stroke="#707070" stroke-width="0.45">14 grains of sand enter the hourglass.</text>
<text x="1271.3" y="1481.3" textLength="248.0" lengthAdjust="spacingAndGlyphs" font-size="41" fill="#555555" font-weight="bold">You are here.</text>
<text x="1525.7" y="1481.3" textLength="572.6" lengthAdjust="spacingAndGlyphs" font-size="41" fill="#555555" stroke="#555555" stroke-width="0.45">These 795 grains represent the</text>
<text x="1272.9" y="1523.6" textLength="709.7" lengthAdjust="spacingAndGlyphs" font-size="41" fill="#555555" stroke="#555555" stroke-width="0.45">7.95 billion people who are alive today.</text>
<text x="1272.7" y="1572.7" textLength="736.4" lengthAdjust="spacingAndGlyphs" font-size="37.5" fill="#707070" stroke="#707070" stroke-width="0.41">In the following chart I am using this triangle</text>
<text x="1273.2" y="1615.4" textLength="96.8" lengthAdjust="spacingAndGlyphs" font-size="37.5" fill="#707070" stroke="#707070" stroke-width="0.41">shape</text>
<text x="1461.2" y="1615.6" textLength="531.5" lengthAdjust="spacingAndGlyphs" font-size="37.5" fill="#707070" stroke="#707070" stroke-width="0.41">to represent 7.95 billion people.</text>
<text x="1272.2" y="1865.9" textLength="591.1" lengthAdjust="spacingAndGlyphs" font-size="41" fill="#555555" stroke="#555555" stroke-width="0.45">60 million people die every year.</text>
<text x="1272.2" y="1918.0" textLength="798.2" lengthAdjust="spacingAndGlyphs" font-size="41" fill="#707070" stroke="#707070" stroke-width="0.45">6 grains of sand pass through the hourglass.</text>
<text x="1517.0" y="2258.8" textLength="851.4" lengthAdjust="spacingAndGlyphs" font-size="43" fill="#555555" font-weight="bold">About 109 billion people have lived and died.</text>
<text x="1519.6" y="2308.4" textLength="403.3" lengthAdjust="spacingAndGlyphs" font-size="41" fill="#707070" stroke="#707070" stroke-width="0.45">10,900 grains of sand.</text>
<text x="1483.8" y="2578.1" textLength="671.3" lengthAdjust="spacingAndGlyphs" font-size="41" fill="#707070" stroke="#707070" stroke-width="0.45">About half the people who ever lived</text>
<text x="1483.8" y="2620.6" textLength="500.7" lengthAdjust="spacingAndGlyphs" font-size="41" fill="#707070" stroke="#707070" stroke-width="0.45">lived in the last 2000 years.</text>
<text x="1570.2" y="2885.6" textLength="489.2" lengthAdjust="spacingAndGlyphs" font-size="41" fill="#707070" stroke="#707070" stroke-width="0.45">Socrates, who was killed in</text>
<text x="1570.7" y="2927.9" textLength="462.3" lengthAdjust="spacingAndGlyphs" font-size="41" fill="#707070" stroke="#707070" stroke-width="0.45">399 BCE, lies about here.</text>
<text x="1570.2" y="3059.4" textLength="517.6" lengthAdjust="spacingAndGlyphs" font-size="41" fill="#707070" stroke="#707070" stroke-width="0.45">Half of the dead bodies here</text>
<text x="1570.3" y="3101.6" textLength="477.7" lengthAdjust="spacingAndGlyphs" font-size="41" fill="#707070" stroke="#707070" stroke-width="0.45">are the bodies of children.</text>
<text x="1569.8" y="3141.4" textLength="684.6" lengthAdjust="spacingAndGlyphs" font-size="33" fill="#707070" stroke="#707070" stroke-width="0.36">[In pre-modern times half of all children died.]</text>
<text x="1570.1" y="3247.4" textLength="595.6" lengthAdjust="spacingAndGlyphs" font-size="41" fill="#707070" stroke="#707070" stroke-width="0.45">The first agriculturalists lie here.</text>
<text x="1569.7" y="3284.3" textLength="591.4" lengthAdjust="spacingAndGlyphs" font-size="33" fill="#707070" stroke="#707070" stroke-width="0.36">Only about 9 billion people lived before</text>
<text x="1570.8" y="3318.9" textLength="417.6" lengthAdjust="spacingAndGlyphs" font-size="33" fill="#707070" stroke="#707070" stroke-width="0.36">the Agricultural Revolution.</text>
<text x="23.7" y="3511.7" textLength="2361.4" lengthAdjust="spacingAndGlyphs" font-size="31.5" fill="#6b6b6b" stroke="#6b6b6b" stroke-width="0.35">Based on the historical estimates from Toshiko Kaneda and Carl Haub (Population Reference Bureau) and the UN Population Division. Based on a design by Oliver Uberti.</text>
<text x="24.5" y="3555.7" textLength="336.7" lengthAdjust="spacingAndGlyphs" font-size="34.7" fill="#3c4095" stroke="#3c4095" stroke-width="0.38">OurWorldinData.org</text>
<text x="368.3" y="3555.7" textLength="1186.7" lengthAdjust="spacingAndGlyphs" font-size="34.7" fill="#6b6b6b" stroke="#6b6b6b" stroke-width="0.38">– Research and data to make progress against the world’s largest problems.</text>
<text x="1628.3" y="3555.7" textLength="242.5" lengthAdjust="spacingAndGlyphs" font-size="34.7" fill="#6b6b6b" stroke="#6b6b6b" stroke-width="0.38">Licensed under</text>
<text x="1878.1" y="3555.7" textLength="106.9" lengthAdjust="spacingAndGlyphs" font-size="34.7" fill="#3c4095" stroke="#3c4095" stroke-width="0.38">CC-BY</text>
<text x="1992.0" y="3555.7" textLength="390.8" lengthAdjust="spacingAndGlyphs" font-size="34.7" fill="#6b6b6b" stroke="#6b6b6b" stroke-width="0.38">by the author Max Roser</text>
<rect x="0" y="0" width="2400" height="3" fill="#555"/><rect x="0" y="0" width="1.5" height="3574" fill="#555"/><rect x="2398.5" y="0" width="1.5" height="3574" fill="#555"/><rect x="0" y="3572.5" width="2400" height="1.5" fill="#555"/>
</svg>
</body></html>
